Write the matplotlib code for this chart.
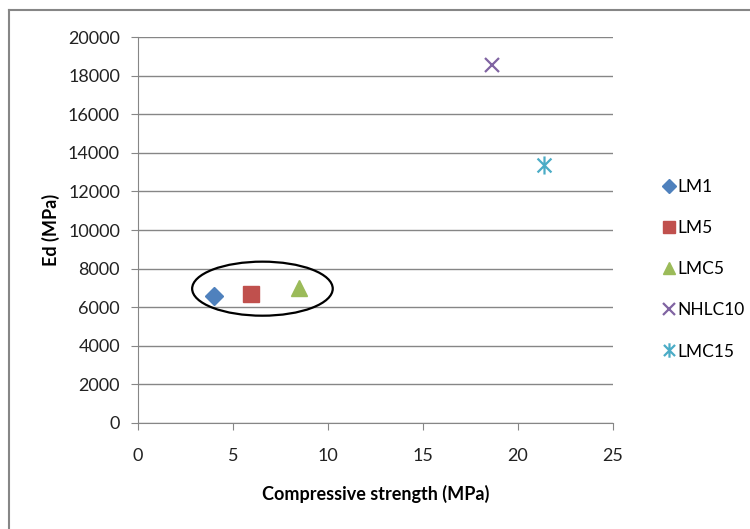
import matplotlib
matplotlib.use('Agg')
import matplotlib.pyplot as plt
from matplotlib.patches import Ellipse
from matplotlib.lines import Line2D
from matplotlib.path import Path

plt.rcParams['font.family'] = ['Lato', 'DejaVu Sans']

# data
labels = ['LM1', 'LM5', 'LMC5', 'NHLC10', 'LMC15']
strength = [4.0, 5.95, 8.45, 18.65, 21.35]      # MPa
ed = [6560, 6690, 7000, 18550, 13380]           # MPa
colors = ['#4F81BD', '#C0504D', '#9BBB59', '#8064A2', '#4BACC6']

# group ellipse (centre, width, height in data units)
ell_center = (6.55, 6960)
ell_w, ell_h = 7.4, 2800

x_ticks = [0, 5, 10, 15, 20, 25]
y_ticks = list(range(0, 20001, 2000))

# asterisk marker = x plus vertical bar
star = Path([(-1, -1), (1, 1), (-1, 1), (1, -1), (0, -1.3), (0, 1.3)],
            [Path.MOVETO, Path.LINETO, Path.MOVETO, Path.LINETO, Path.MOVETO, Path.LINETO])
markers = ['D', 's', '^', 'x', star]
sizes = [9, 11, 11, 10, 13]

fig = plt.figure(figsize=(7.5, 5.29), dpi=100)
ax = fig.add_axes([0.184, 0.2004, 0.6333, 0.7296])

for i in range(len(labels)):
    if markers[i] == 'x' or markers[i] is star:
        ax.plot(strength[i], ed[i], linestyle='none', marker=markers[i], markersize=sizes[i],
                color=colors[i], markeredgewidth=1.6, label=labels[i])
    else:
        ax.plot(strength[i], ed[i], linestyle='none', marker=markers[i], markersize=sizes[i],
                color=colors[i], markeredgecolor=colors[i], label=labels[i])

ax.add_patch(Ellipse(ell_center, ell_w, ell_h, fill=False, edgecolor='black', linewidth=1.6))

ax.set_xlim(0, 25)
ax.set_ylim(0, 20000)
ax.set_xticks(x_ticks)
ax.set_yticks(y_ticks)
ax.yaxis.grid(True, color='#868686', linewidth=1)
ax.set_axisbelow(True)
for s in ['top', 'right']:
    ax.spines[s].set_visible(False)
for s in ['left', 'bottom']:
    ax.spines[s].set_color('#868686')
ax.tick_params(axis='both', colors='#868686', labelcolor='#222222', labelsize=13,
               length=5, direction='out')
ax.tick_params(axis='x', pad=13)
ax.tick_params(axis='y', pad=8)
ax.set_xlabel('Compressive strength (MPa)', fontsize=13, fontweight='bold', labelpad=15)
ax.set_ylabel('Ed (MPa)', fontsize=13, fontweight='bold', labelpad=6)

fig.legend(loc='upper left', bbox_to_anchor=(0.872, 0.675), frameon=False, fontsize=12.5,
           handletextpad=0.05, handlelength=0.9, labelspacing=1.45, borderaxespad=0,
           markerscale=0.8)

# outer chart border (top and left visible)
fig.add_artist(Line2D([9 / 750, 1], [1 - 10 / 529, 1 - 10 / 529], color='#868686', linewidth=1.5))
fig.add_artist(Line2D([9 / 750, 9 / 750], [0, 1 - 10 / 529], color='#868686', linewidth=1.5))

fig.savefig('out.png', dpi=100)
